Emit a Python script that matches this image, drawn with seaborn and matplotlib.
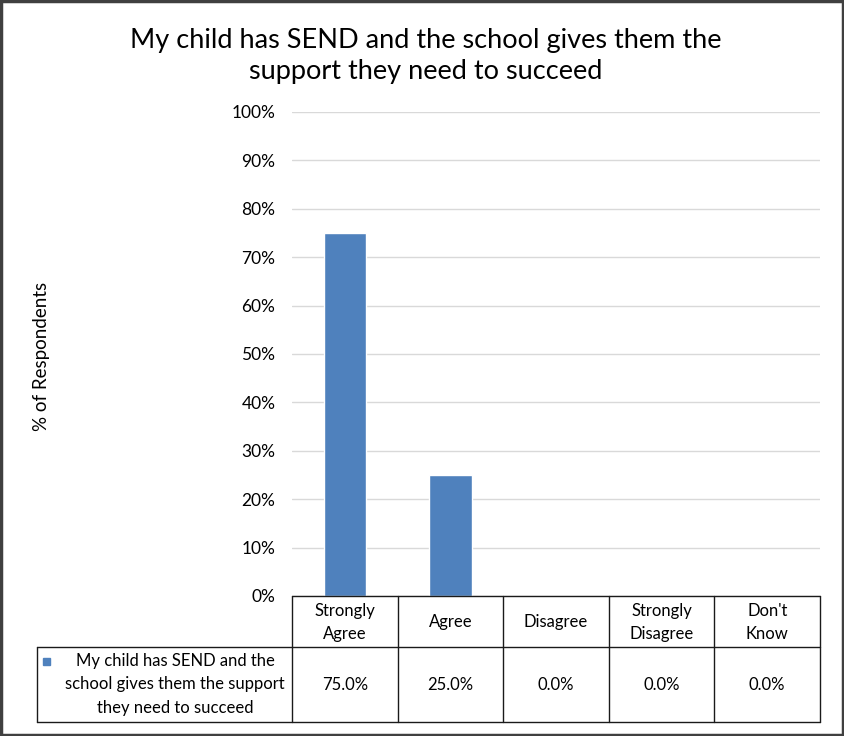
import matplotlib
matplotlib.use("Agg")
from matplotlib import pyplot as plt
from matplotlib.lines import Line2D
from matplotlib.patches import Rectangle
import seaborn as sns
import pandas as pd

categories = ["Strongly\nAgree", "Agree", "Disagree", "Strongly\nDisagree", "Don't\nKnow"]
values = [75.0, 25.0, 0.0, 0.0, 0.0]
series_name = "My child has SEND and the\nschool gives them the support\nthey need to succeed"
title = "My child has SEND and the school gives them the\nsupport they need to succeed"
bar_color = "#4f81bd"

sns.set_style("white")
plt.rcParams["font.family"] = ["Lato", "DejaVu Sans"]
plt.rcParams["text.color"] = "black"
plt.rcParams["ytick.color"] = "black"

W, H = 845, 736
fig = plt.figure(figsize=(W / 100, H / 100), dpi=100)

def fx(px):
    return px / W

def fy(py):
    return 1 - py / H

# plot area
x0, x1, ytop, ybot = 292, 820, 112, 596
ax = fig.add_axes([fx(x0), fy(ybot), fx(x1 - x0), (ybot - ytop) / H])
df = pd.DataFrame({"cat": categories, "val": values})
sns.barplot(data=df, x="cat", y="val", color=bar_color, width=0.4, ax=ax, saturation=1)
ax.set_ylim(0, 100)
ax.set_xlim(-0.5, 4.5)
ax.set_yticks(range(0, 101, 10))
ax.set_yticklabels([f"{v}%" for v in range(0, 101, 10)], fontsize=12.5)
ax.tick_params(axis="y", length=0, pad=12)
ax.set_xticks([])
ax.set_xlabel("")
ax.set_ylabel("")
ax.yaxis.grid(True, color="#d9d9d9", linewidth=1)
ax.set_axisbelow(True)
for s in ax.spines.values():
    s.set_visible(False)

fig.text(fx(42), fy(356), "% of Respondents", rotation=90, ha="center", va="center", fontsize=13.5)
fig.text(fx(426), fy(56), title, ha="center", va="center", fontsize=19.5, linespacing=1.3)

# data table
lc = "#1a1a1a"
lw = 1
def hline(xa, xb, y):
    fig.add_artist(Line2D([fx(xa), fx(xb)], [fy(y), fy(y)], color=lc, lw=lw))

def vline(x, ya, yb):
    fig.add_artist(Line2D([fx(x), fx(x)], [fy(ya), fy(yb)], color=lc, lw=lw))

row1, row2, row3 = 596, 647, 722
col_w = (x1 - x0) / len(categories)
hline(x0, x1, row1)
hline(37, x1, row2)
hline(37, x1, row3)
vline(37, row2, row3)
for i in range(len(categories) + 1):
    vline(x0 + i * col_w, row1, row3)

for i, (c, v) in enumerate(zip(categories, values)):
    cx = x0 + (i + 0.5) * col_w
    fig.text(fx(cx), fy((row1 + row2) / 2 + 1), c, ha="center", va="center", fontsize=12, linespacing=1.6)
    fig.text(fx(cx), fy((row2 + row3) / 2), f"{v:.1f}%", ha="center", va="center", fontsize=12)

fig.add_artist(Rectangle((fx(43), fy(665)), 7 / W, 7 / H, color=bar_color))
fig.text(fx(175), fy((row2 + row3) / 2), series_name, ha="center", va="center", fontsize=12, linespacing=1.55)

# outer frame
fig.add_artist(Rectangle((0.001, 0.001), 0.997, 0.997, fill=False, edgecolor="#404040", lw=2.5))

fig.savefig("out.png", dpi=100)
